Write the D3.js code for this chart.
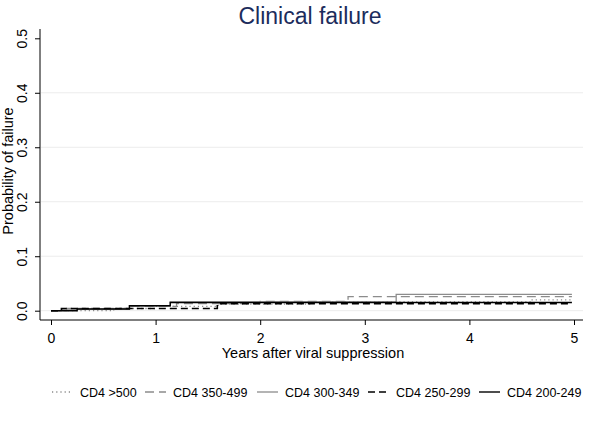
<!DOCTYPE html>
<html><head><meta charset="utf-8">
<script src="https://cdn.jsdelivr.net/npm/d3@7"></script>
<style>body{margin:0;background:#fff}svg{display:block;font-family:Arial,"Liberation Sans",sans-serif}</style>
</head><body><svg id="c" width="600" height="432"></svg>
<script>
const seriesNames = ["CD4 >500","CD4 350-499","CD4 300-349","CD4 250-299","CD4 200-249"];
const t500 = [0, 0.6, 1.0, 1.6, 2.5, 4.6, 4.98];
const v500 = [0, 0.004, 0.008, 0.012, 0.016, 0.020, 0.020];
const t350 = [0, 0.15, 0.75, 1.2, 2.0, 2.84, 4.98];
const v350 = [0, 0.004, 0.008, 0.013, 0.017, 0.026, 0.026];
const t300 = [0, 0.1, 0.75, 1.14, 3.3, 4.98];
const v300 = [0, 0.003, 0.009, 0.016, 0.030, 0.030];
const t250 = [0, 0.1, 1.59, 4.98];
const v250 = [0, 0.004, 0.013, 0.013];
const t200 = [0, 0.25, 0.75, 1.14, 4.98];
const v200 = [0, 0.003, 0.009, 0.015, 0.015];
const xTicks = [0,1,2,3,4,5];
const yTicks = [0,0.1,0.2,0.3,0.4,0.5];

const svg = d3.select("#c");
const x = d3.scaleLinear().domain([0,5]).range([51,574]);
const y = d3.scaleLinear().domain([0,0.5]).range([310.7,38.3]);

// gridlines
svg.append("g").selectAll("line").data(yTicks.slice(0,5)).join("line")
  .attr("x1",41).attr("x2",583).attr("y1",d=>y(d)).attr("y2",d=>y(d))
  .attr("stroke","#ececec").attr("stroke-width",1);

// title
svg.append("text").attr("x",310).attr("y",24).attr("text-anchor","middle")
  .attr("font-size",23).attr("fill","#1c2c5c").text("Clinical failure");

// y axis
const ya = svg.append("g").attr("transform","translate(40,0)")
  .call(d3.axisLeft(y).tickValues(yTicks).tickFormat(d3.format(".1f")).tickSize(5).tickSizeOuter(0));
ya.select(".domain").remove();
svg.append("line").attr("x1",40).attr("x2",40).attr("y1",29).attr("y2",320).attr("stroke","#000");
ya.selectAll(".tick text").attr("transform","rotate(-90)").attr("x",0).attr("y",-13)
  .attr("dy","0").attr("text-anchor","middle").attr("font-size",14).attr("fill","#000")
  .attr("font-family","Arial, 'Liberation Sans', sans-serif");
ya.selectAll(".tick line").attr("stroke","#000");

// x axis
const xa = svg.append("g").attr("transform","translate(0,320)")
  .call(d3.axisBottom(x).tickValues(xTicks).tickFormat(d3.format("d")).tickSize(5).tickSizeOuter(0));
xa.select(".domain").remove();
svg.append("line").attr("x1",40).attr("x2",583).attr("y1",320).attr("y2",320).attr("stroke","#000");
xa.selectAll(".tick text").attr("y",13).attr("font-size",14).attr("fill","#000")
  .attr("font-family","Arial, 'Liberation Sans', sans-serif");
xa.selectAll(".tick line").attr("stroke","#000");

// axis titles
svg.append("text").attr("x",313).attr("y",358).attr("text-anchor","middle")
  .attr("font-size",14.5).attr("fill","#000").text("Years after viral suppression");
svg.append("text").attr("transform","translate(13,171) rotate(-90)").attr("text-anchor","middle")
  .attr("font-size",14.5).attr("fill","#000").text("Probability of failure");

// series
const styles = [
  {t:t500,v:v500,color:"#8a8a8a",dash:"1.2,3",w:1.3},
  {t:t350,v:v350,color:"#8c8c8c",dash:"9,5",w:1.3},
  {t:t300,v:v300,color:"#8c8c8c",dash:null,w:1.3},
  {t:t250,v:v250,color:"#000",dash:"7,4",w:1.6},
  {t:t200,v:v200,color:"#000",dash:null,w:1.4}
];
const line = d3.line().x(d=>x(d[0])).y(d=>y(d[1])).curve(d3.curveStepAfter);
styles.forEach(s=>{
  const pts = s.t.map((tt,i)=>[tt,s.v[i]]);
  svg.append("path").datum(pts).attr("d",line).attr("fill","none")
    .attr("stroke",s.color).attr("stroke-width",s.w)
    .attr("stroke-dasharray",s.dash);
});

// legend
const legX = [52,145,257,368,479];
const lg = svg.append("g");
styles.forEach((s,i)=>{
  lg.append("line").attr("x1",legX[i]).attr("x2",legX[i]+21).attr("y1",392).attr("y2",392)
    .attr("stroke",s.color).attr("stroke-width",s.w).attr("stroke-dasharray",s.dash);
  lg.append("text").attr("x",legX[i]+28).attr("y",396.5).attr("font-size",12.5)
    .attr("fill","#000").text(seriesNames[i]);
});
</script></body></html>
